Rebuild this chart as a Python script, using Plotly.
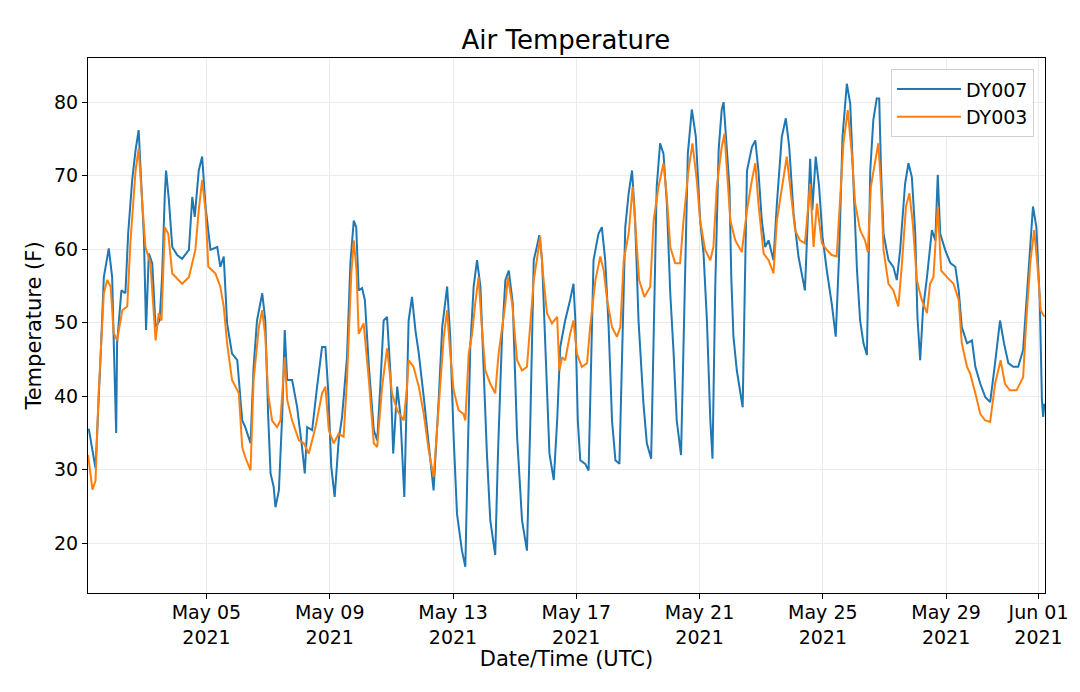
import pandas as pd
import plotly.graph_objects as go

# Days since 2021-05-01 00:00 UTC and air temperature (F)
dy007_day = [0.18, 0.40, 0.56, 0.67, 0.83, 0.94, 0.99, 1.07, 1.10, 1.24, 1.37, 1.46, 1.59, 1.70, 1.80, 1.86, 1.97, 2.04, 2.13, 2.24,
             2.35, 2.48, 2.56, 2.65, 2.69, 2.78, 2.89, 3.05, 3.21, 3.43, 3.54, 3.62, 3.75, 3.86, 3.97, 4.13, 4.35, 4.45, 4.56, 4.67,
             4.83, 5.00, 5.16, 5.26, 5.43, 5.53, 5.64, 5.81, 5.91, 6.00, 6.08, 6.18, 6.24, 6.35, 6.46, 6.54, 6.62, 6.78, 6.94, 7.10,
             7.19, 7.27, 7.43, 7.59, 7.75, 7.86, 7.95, 8.05, 8.16, 8.29, 8.40, 8.56, 8.67, 8.78, 8.86, 8.94, 9.05, 9.14, 9.27, 9.43,
             9.54, 9.64, 9.75, 9.86, 9.97, 10.06, 10.19, 10.29, 10.42, 10.56, 10.67, 10.78, 10.89, 11.05, 11.21, 11.37, 11.54, 11.65, 11.81, 11.91,
             12.02, 12.13, 12.29, 12.40, 12.48, 12.56, 12.67, 12.78, 12.89, 12.99, 13.10, 13.21, 13.37, 13.46, 13.59, 13.70, 13.81, 13.94, 14.08, 14.24,
             14.40, 14.51, 14.62, 14.72, 14.80, 14.89, 15.00, 15.13, 15.27, 15.38, 15.48, 15.64, 15.80, 15.91, 15.97, 16.05, 16.13, 16.29, 16.40, 16.49,
             16.56, 16.72, 16.83, 16.94, 17.05, 17.16, 17.27, 17.40, 17.48, 17.59, 17.70, 17.81, 17.91, 18.02, 18.18, 18.29, 18.43, 18.51, 18.61, 18.72,
             18.83, 18.94, 19.05, 19.16, 19.26, 19.40, 19.51, 19.62, 19.75, 19.88, 20.02, 20.13, 20.24, 20.35, 20.42, 20.51, 20.62, 20.72, 20.78, 20.97,
             21.03, 21.10, 21.21, 21.30, 21.40, 21.47, 21.54, 21.70, 21.81, 21.91, 22.02, 22.13, 22.24, 22.40, 22.51, 22.67, 22.80, 22.91, 23.05, 23.21,
             23.34, 23.42, 23.51, 23.59, 23.66, 23.77, 23.88, 23.99, 24.13, 24.29, 24.42, 24.53, 24.64, 24.78, 24.89, 25.00, 25.11, 25.21, 25.32, 25.43,
             25.54, 25.64, 25.75, 25.83, 25.89, 25.97, 26.13, 26.29, 26.40, 26.51, 26.67, 26.78, 26.89, 27.00, 27.07, 27.16, 27.25, 27.38, 27.54, 27.65,
             27.73, 27.81, 27.97, 28.14, 28.30, 28.41, 28.51, 28.68, 28.84, 28.95, 29.11, 29.27, 29.43, 29.59, 29.75, 29.88, 30.02, 30.18, 30.34, 30.50,
             30.61, 30.74, 30.82, 30.93, 31.04, 31.11, 31.15, 31.19]
dy007_temp = [35.6, 30.2, 44.9, 56.2, 60.1, 56.2, 47.6, 35.0, 47.2, 54.4, 54.0, 62.2, 69.4, 73.5, 76.2, 70.7, 61.7, 49.0, 59.4, 58.1,
              49.4, 50.3, 56.2, 67.6, 70.7, 66.7, 60.3, 59.2, 58.7, 59.9, 67.1, 64.4, 70.7, 72.6, 65.8, 59.9, 60.3, 57.6, 59.0, 49.9,
              45.8, 44.9, 36.7, 35.8, 33.6, 44.0, 50.3, 54.0, 50.3, 37.6, 29.5, 27.7, 24.9, 27.2, 37.6, 49.0, 42.2, 42.2, 38.6, 33.1,
              29.5, 35.8, 35.4, 41.3, 46.7, 46.7, 40.8, 30.4, 26.3, 34.0, 37.2, 45.3, 58.1, 63.9, 63.0, 54.4, 54.7, 53.1, 44.0, 35.4,
              34.0, 41.3, 50.3, 50.8, 43.1, 32.2, 41.3, 37.6, 26.3, 50.3, 53.5, 49.0, 45.8, 39.9, 33.1, 27.2, 39.9, 49.4, 54.9, 48.1,
              34.5, 24.0, 19.0, 16.8, 32.2, 46.7, 54.9, 58.5, 54.9, 43.5, 32.2, 23.1, 18.4, 32.2, 48.1, 55.8, 57.1, 52.6, 34.5, 23.1,
              19.0, 36.7, 58.5, 60.3, 61.9, 58.5, 45.8, 32.2, 28.6, 36.7, 46.7, 50.3, 53.1, 55.3, 50.3, 36.7, 31.3, 30.8, 29.9, 45.8,
              58.5, 62.1, 63.0, 58.5, 49.4, 36.7, 31.3, 30.8, 45.8, 63.0, 67.6, 70.7, 63.9, 50.3, 39.0, 33.6, 31.5, 50.3, 68.5, 74.4,
              73.0, 66.2, 54.0, 45.8, 36.7, 32.0, 54.9, 73.0, 79.0, 75.3, 63.9, 59.4, 50.3, 36.7, 31.5, 54.9, 73.5, 79.0, 80.0, 68.5,
              56.2, 48.1, 43.5, 41.0, 38.5, 55.0, 70.7, 73.9, 74.8, 70.7, 63.9, 60.3, 61.2, 58.5, 66.2, 75.3, 77.8, 73.9, 64.9, 59.0,
              56.2, 54.4, 63.9, 72.3, 65.3, 72.6, 68.5, 61.7, 57.1, 52.6, 48.1, 59.4, 75.3, 82.5, 79.8, 68.5, 57.1, 50.3, 47.2, 45.6,
              70.7, 77.6, 80.5, 80.5, 70.7, 62.1, 58.5, 57.6, 55.8, 59.9, 68.9, 71.7, 69.8, 62.1, 50.8, 44.9, 51.7, 56.2, 62.6, 61.2,
              70.1, 62.1, 59.9, 58.1, 57.6, 54.4, 49.4, 47.2, 47.6, 44.0, 41.7, 39.9, 39.2, 44.5, 50.3, 47.2, 44.5, 44.0, 44.0, 46.3,
              53.1, 61.7, 65.8, 63.0, 53.1, 39.5, 37.2, 39.0]

dy003_day = [0.16, 0.30, 0.40, 0.50, 0.67, 0.78, 0.89, 0.99, 1.10, 1.27, 1.43, 1.53, 1.70, 1.80, 1.91, 2.02, 2.18, 2.35, 2.45, 2.54,
             2.65, 2.76, 2.89, 3.21, 3.43, 3.64, 3.75, 3.86, 3.97, 4.06, 4.29, 4.45, 4.56, 4.67, 4.83, 5.05, 5.16, 5.26, 5.43, 5.53,
             5.70, 5.81, 5.91, 6.00, 6.13, 6.29, 6.40, 6.54, 6.62, 6.78, 7.00, 7.16, 7.32, 7.54, 7.75, 7.86, 7.97, 8.13, 8.29, 8.45,
             8.56, 8.70, 8.78, 8.87, 8.94, 9.10, 9.27, 9.43, 9.54, 9.70, 9.86, 10.02, 10.19, 10.40, 10.51, 10.56, 10.72, 10.89, 11.05, 11.21,
             11.37, 11.54, 11.70, 11.81, 11.91, 12.02, 12.18, 12.34, 12.40, 12.51, 12.62, 12.72, 12.83, 12.92, 13.05, 13.21, 13.37, 13.48, 13.59, 13.70,
             13.78, 13.92, 14.08, 14.24, 14.40, 14.51, 14.62, 14.72, 14.83, 14.91, 15.05, 15.21, 15.38, 15.45, 15.54, 15.64, 15.80, 15.91, 16.02, 16.18,
             16.35, 16.45, 16.62, 16.78, 16.89, 17.00, 17.16, 17.32, 17.43, 17.54, 17.70, 17.83, 17.94, 18.04, 18.21, 18.40, 18.51, 18.67, 18.83, 18.94,
             19.05, 19.21, 19.37, 19.48, 19.64, 19.77, 19.91, 20.02, 20.18, 20.35, 20.45, 20.56, 20.72, 20.81, 21.00, 21.16, 21.37, 21.54, 21.70, 21.81,
             21.91, 22.08, 22.24, 22.40, 22.51, 22.67, 22.83, 22.94, 23.10, 23.26, 23.42, 23.59, 23.70, 23.81, 23.97, 24.13, 24.29, 24.45, 24.56, 24.67,
             24.81, 24.94, 25.05, 25.21, 25.37, 25.46, 25.56, 25.69, 25.80, 25.89, 25.97, 26.13, 26.29, 26.45, 26.56, 26.70, 26.81, 26.92, 27.05, 27.21,
             27.38, 27.48, 27.59, 27.73, 27.84, 28.03, 28.24, 28.41, 28.51, 28.68, 28.78, 28.95, 29.11, 29.27, 29.43, 29.59, 29.77, 29.91, 30.07, 30.29,
             30.50, 30.61, 30.74, 30.86, 30.96, 31.07, 31.19]
dy003_temp = [32.0, 27.3, 28.5, 40.4, 54.0, 55.8, 54.9, 48.6, 47.6, 51.7, 52.2, 60.8, 70.7, 73.7, 66.7, 60.3, 58.1, 47.6, 51.3, 50.3,
              63.0, 62.1, 56.7, 55.3, 56.2, 59.9, 65.3, 69.4, 65.3, 57.6, 56.7, 54.9, 52.2, 47.2, 42.2, 40.4, 33.1, 31.7, 29.9, 42.2,
              49.4, 51.7, 48.1, 40.4, 36.7, 35.8, 36.7, 45.3, 39.5, 36.7, 34.0, 33.6, 32.2, 35.8, 40.4, 41.3, 35.4, 33.6, 34.9, 34.5,
              42.2, 56.7, 61.2, 57.1, 48.5, 49.9, 42.2, 33.6, 33.1, 41.3, 46.5, 40.4, 38.1, 36.7, 41.3, 44.9, 44.0, 41.3, 37.6, 32.7,
              29.0, 39.0, 48.1, 51.7, 45.8, 40.8, 38.1, 37.6, 36.7, 45.8, 48.5, 52.6, 56.2, 50.3, 43.5, 41.7, 40.4, 45.8, 49.4, 52.6,
              56.2, 52.6, 44.9, 43.5, 44.0, 49.4, 55.8, 58.5, 61.7, 57.1, 51.3, 49.9, 50.8, 43.5, 45.3, 44.9, 48.5, 50.3, 45.8, 44.0,
              44.5, 49.4, 55.8, 59.0, 57.1, 53.1, 49.4, 48.1, 49.4, 58.5, 62.1, 68.5, 61.7, 55.8, 53.5, 54.9, 63.9, 68.5, 71.7, 67.1,
              60.3, 58.1, 58.1, 63.9, 70.7, 74.4, 69.4, 63.9, 59.9, 58.5, 60.3, 68.5, 73.9, 75.7, 63.9, 61.2, 59.6, 65.3, 69.4, 71.7,
              66.2, 59.4, 58.5, 56.7, 63.9, 68.5, 72.6, 68.5, 62.6, 61.2, 60.8, 68.9, 60.3, 66.2, 60.8, 59.9, 59.2, 59.0, 67.1, 74.4,
              78.9, 73.0, 66.2, 62.6, 61.2, 59.6, 68.5, 71.7, 74.4, 68.5, 59.9, 55.3, 54.4, 52.2, 57.6, 65.8, 67.6, 63.5, 55.8, 53.1,
              51.3, 55.3, 56.2, 65.8, 57.1, 56.2, 55.3, 53.1, 47.2, 44.0, 43.1, 40.4, 37.6, 36.7, 36.5, 41.7, 44.9, 41.7, 40.8, 40.8,
              42.6, 50.8, 58.5, 62.6, 58.1, 51.7, 50.8]

tick_dates = ["2021-05-05", "2021-05-09", "2021-05-13", "2021-05-17", "2021-05-21", "2021-05-25", "2021-05-29", "2021-06-01"]
tick_labels = ["May 05<br>2021", "May 09<br>2021", "May 13<br>2021", "May 17<br>2021",
               "May 21<br>2021", "May 25<br>2021", "May 29<br>2021", "Jun 01<br>2021"]
y_ticks = [20, 30, 40, 50, 60, 70, 80]

start = pd.Timestamp("2021-05-01")
x007 = start + pd.to_timedelta(dy007_day, unit="D")
x003 = start + pd.to_timedelta(dy003_day, unit="D")

FONT = "DejaVu Sans"

fig = go.Figure()
fig.add_trace(go.Scatter(x=x007, y=dy007_temp, mode="lines", name="DY007",
                         line=dict(color="#1f77b4", width=2)))
fig.add_trace(go.Scatter(x=x003, y=dy003_temp, mode="lines", name="DY003",
                         line=dict(color="#ff7f0e", width=2)))

axis_common = dict(showline=True, linecolor="black", linewidth=1, mirror=True,
                   ticks="outside", ticklen=5, tickwidth=1, tickcolor="black",
                   showgrid=True, gridcolor="#ebebeb", gridwidth=1, zeroline=False,
                   tickfont=dict(family=FONT, size=19, color="black"))

# the page body adds an 8px offset, margins compensate for it
fig.update_layout(
    width=1080, height=692,
    margin=dict(l=80, r=43, t=50, b=107),
    paper_bgcolor="white", plot_bgcolor="white",
    font=dict(family=FONT, color="black"),
    title=dict(text="Air Temperature", x=0.5165, xanchor="center", y=0.954, yanchor="middle",
               font=dict(family=FONT, size=26, color="black")),
    legend=dict(x=0.9885, xanchor="right", y=0.979, yanchor="top",
                bordercolor="#d0d0d0", borderwidth=1, bgcolor="white",
                itemwidth=64,
                font=dict(family=FONT, size=19, color="black")),
    showlegend=True,
)
fig.update_xaxes(**axis_common,
                 range=[start + pd.Timedelta(days=0.156), start + pd.Timedelta(days=31.21)],
                 tickvals=pd.to_datetime(tick_dates), ticktext=tick_labels,
                 ticklabelstandoff=-3,
                 title=dict(text="Date/Time (UTC)", standoff=4, font=dict(family=FONT, size=21, color="black")))
fig.update_yaxes(**axis_common, range=[13.24, 86.0], tickvals=y_ticks,
                 title=dict(text="Temperature (F)", standoff=6, font=dict(family=FONT, size=21, color="black")))

fig.write_html("out.html")
